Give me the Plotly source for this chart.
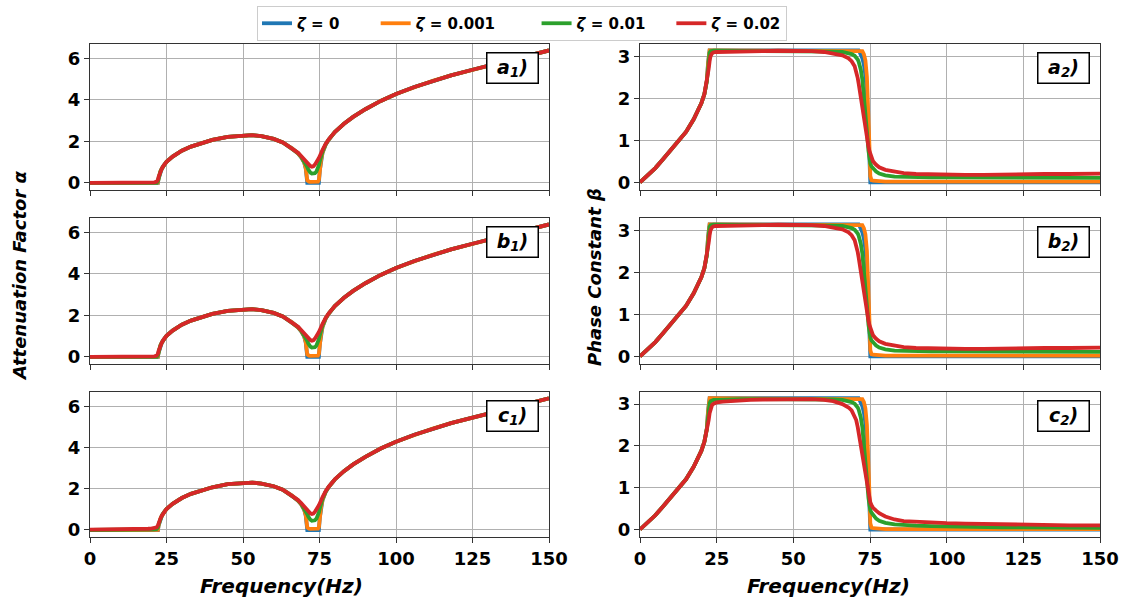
import plotly.graph_objects as go

# ---------------- data ----------------
freq = [0, 2.5, 5, 7.5, 10, 12.5, 15, 17.5, 19, 20,
        21, 21.8, 22.2, 22.4, 22.7,
        23, 23.5, 24, 25, 27, 30, 33, 36, 40, 45,
        50, 53, 56, 60, 63, 66, 68, 69, 70, 70.5,
        71, 71.3, 71.6, 72, 72.5, 73, 73.5, 74, 74.5, 74.8,
        75.1, 75.5, 76, 77, 78, 80, 83, 86, 90, 95,
        100, 106, 112, 118, 125, 132, 140, 150]

zeta_labels = ["0", "0.001", "0.01", "0.02"]
colors = ["#1f77b4", "#ff7f0e", "#2ca02c", "#d62728"]

# attenuation factor, rows a & b
alpha_ab_z0 = [0, 0, 0, 0, 0, 0, 0, 0, 0, 0,
               0, 0, 0, 0.2, 0.39,
               0.55, 0.7, 0.82, 1.02, 1.27, 1.55, 1.75, 1.9, 2.07, 2.22,
               2.29, 2.3, 2.25, 2.12, 1.95, 1.67, 1.42, 1.24, 0.98, 0.7,
               0, 0, 0, 0, 0, 0, 0, 0, 0, 0,
               0.6, 1.1, 1.45, 1.84, 2.08, 2.45, 2.85, 3.18, 3.55, 3.95,
               4.28, 4.62, 4.92, 5.18, 5.45, 5.72, 6.02, 6.38]
alpha_ab_z1 = [0, 0, 0, 0, 0, 0, 0, 0, 0, 0,
               0, 0, 0.01, 0.21, 0.4,
               0.55, 0.7, 0.82, 1.02, 1.27, 1.55, 1.75, 1.9, 2.07, 2.22,
               2.29, 2.3, 2.25, 2.12, 1.95, 1.67, 1.42, 1.25, 0.99, 0.72,
               0.12, 0.07, 0.06, 0.05, 0.05, 0.05, 0.05, 0.05, 0.06, 0.14,
               0.62, 1.1, 1.46, 1.85, 2.08, 2.45, 2.85, 3.18, 3.55, 3.95,
               4.28, 4.62, 4.92, 5.18, 5.45, 5.72, 6.02, 6.38]
alpha_ab_z2 = [0, 0, 0, 0, 0, 0, 0, 0, 0, 0,
               0, 0.01, 0.08, 0.25, 0.41,
               0.55, 0.7, 0.82, 1.02, 1.27, 1.55, 1.75, 1.9, 2.07, 2.22,
               2.29, 2.3, 2.25, 2.12, 1.95, 1.67, 1.43, 1.27, 1.05, 0.9,
               0.76, 0.66, 0.58, 0.5, 0.45, 0.44, 0.47, 0.55, 0.68, 0.85,
               1.05, 1.3, 1.52, 1.86, 2.09, 2.45, 2.85, 3.18, 3.55, 3.95,
               4.28, 4.62, 4.92, 5.18, 5.45, 5.72, 6.02, 6.38]
alpha_ab_z3 = [0, 0, 0, 0, 0, 0, 0.01, 0.01, 0.02, 0.02,
               0.03, 0.06, 0.15, 0.28, 0.42,
               0.55, 0.7, 0.82, 1.02, 1.27, 1.55, 1.75, 1.9, 2.07, 2.22,
               2.29, 2.3, 2.25, 2.12, 1.95, 1.68, 1.45, 1.3, 1.12, 1.03,
               0.95, 0.9, 0.85, 0.81, 0.78, 0.8, 0.88, 0.98, 1.1, 1.2,
               1.3, 1.45, 1.6, 1.88, 2.1, 2.45, 2.85, 3.18, 3.55, 3.95,
               4.28, 4.62, 4.92, 5.18, 5.45, 5.72, 6.02, 6.38]

# attenuation factor, row c
alpha_c_z0 = [0, 0, 0, 0, 0, 0, 0, 0, 0, 0,
              0, 0, 0, 0.2, 0.39,
              0.55, 0.7, 0.82, 1.02, 1.27, 1.55, 1.75, 1.9, 2.07, 2.22,
              2.29, 2.3, 2.25, 2.12, 1.95, 1.67, 1.42, 1.24, 0.98, 0.7,
              0, 0, 0, 0, 0, 0, 0, 0, 0, 0,
              0.6, 1.1, 1.45, 1.84, 2.08, 2.45, 2.85, 3.18, 3.55, 3.95,
              4.28, 4.62, 4.92, 5.18, 5.45, 5.72, 6.02, 6.38]
alpha_c_z1 = [0, 0, 0, 0, 0, 0, 0, 0, 0, 0,
              0, 0, 0.01, 0.21, 0.4,
              0.55, 0.7, 0.82, 1.02, 1.27, 1.55, 1.75, 1.9, 2.07, 2.22,
              2.29, 2.3, 2.25, 2.12, 1.95, 1.67, 1.42, 1.25, 0.99, 0.72,
              0.12, 0.07, 0.06, 0.05, 0.05, 0.05, 0.05, 0.05, 0.06, 0.14,
              0.62, 1.1, 1.46, 1.85, 2.08, 2.45, 2.85, 3.18, 3.55, 3.95,
              4.28, 4.62, 4.92, 5.18, 5.45, 5.72, 6.02, 6.38]
alpha_c_z2 = [0, 0, 0, 0.01, 0.01, 0.01, 0.01, 0.02, 0.02, 0.02,
              0.03, 0.05, 0.12, 0.27, 0.42,
              0.55, 0.7, 0.82, 1.02, 1.27, 1.55, 1.75, 1.9, 2.07, 2.22,
              2.29, 2.3, 2.25, 2.12, 1.95, 1.67, 1.43, 1.27, 1.05, 0.9,
              0.76, 0.66, 0.58, 0.5, 0.45, 0.44, 0.47, 0.55, 0.68, 0.85,
              1.05, 1.3, 1.52, 1.86, 2.09, 2.45, 2.85, 3.18, 3.55, 3.95,
              4.28, 4.62, 4.92, 5.18, 5.45, 5.72, 6.02, 6.38]
alpha_c_z3 = [0.02, 0.02, 0.02, 0.03, 0.03, 0.03, 0.04, 0.05, 0.06, 0.07,
              0.09, 0.13, 0.22, 0.32, 0.44,
              0.55, 0.7, 0.82, 1.02, 1.27, 1.55, 1.75, 1.9, 2.07, 2.22,
              2.29, 2.3, 2.25, 2.12, 1.95, 1.68, 1.45, 1.3, 1.12, 1.03,
              0.95, 0.9, 0.85, 0.81, 0.78, 0.8, 0.88, 0.98, 1.1, 1.2,
              1.3, 1.45, 1.6, 1.88, 2.1, 2.45, 2.85, 3.18, 3.55, 3.95,
              4.28, 4.62, 4.92, 5.18, 5.45, 5.72, 6.02, 6.38]

# phase constant, rows a & b
beta_ab_z0 = [0, 0.17, 0.34, 0.55, 0.76, 0.98, 1.2, 1.5, 1.7, 1.88,
              2.1, 2.42, 2.85, 3.14, 3.14,
              3.14, 3.14, 3.14, 3.14, 3.14, 3.14, 3.14, 3.14, 3.14, 3.14,
              3.14, 3.14, 3.14, 3.14, 3.14, 3.14, 3.14, 3.14, 3.14, 3.14,
              3.14, 3.14, 3.1, 3.05, 2.95, 2.8, 2.55, 2.1, 1.4, 0.6,
              0, 0, 0, 0, 0, 0, 0, 0, 0, 0,
              0, 0, 0, 0, 0, 0, 0, 0]
beta_ab_z1 = [0, 0.17, 0.34, 0.55, 0.76, 0.98, 1.2, 1.5, 1.7, 1.88,
              2.1, 2.42, 2.82, 3.14, 3.14,
              3.14, 3.14, 3.14, 3.14, 3.14, 3.14, 3.14, 3.14, 3.14, 3.14,
              3.14, 3.14, 3.14, 3.14, 3.14, 3.14, 3.14, 3.14, 3.14, 3.14,
              3.14, 3.14, 3.14, 3.14, 3.12, 3.05, 2.9, 2.5, 1.7, 0.9,
              0.15, 0.05, 0.04, 0.03, 0.03, 0.02, 0.02, 0.02, 0.02, 0.02,
              0.02, 0.02, 0.02, 0.02, 0.02, 0.02, 0.02, 0.02]
beta_ab_z2 = [0, 0.17, 0.34, 0.55, 0.76, 0.98, 1.2, 1.5, 1.7, 1.88,
              2.1, 2.4, 2.7, 2.9, 3.08,
              3.12, 3.13, 3.13, 3.13, 3.13, 3.13, 3.13, 3.13, 3.13, 3.13,
              3.13, 3.13, 3.13, 3.12, 3.11, 3.1, 3.07, 3.05, 3.01, 2.97,
              2.92, 2.87, 2.8, 2.68, 2.45, 2.1, 1.68, 1.2, 0.75, 0.55,
              0.45, 0.38, 0.33, 0.26, 0.21, 0.17, 0.14, 0.13, 0.12, 0.12,
              0.12, 0.12, 0.12, 0.11, 0.11, 0.11, 0.11, 0.11]
beta_ab_z3 = [0, 0.17, 0.34, 0.55, 0.76, 0.98, 1.2, 1.5, 1.7, 1.88,
              2.1, 2.38, 2.58, 2.7, 2.88,
              3.0, 3.07, 3.09, 3.1, 3.1, 3.11, 3.11, 3.12, 3.12, 3.13,
              3.13, 3.13, 3.12, 3.1, 3.07, 3.02, 2.95, 2.88, 2.76, 2.65,
              2.48, 2.35, 2.2, 1.98, 1.7, 1.45, 1.25, 1.05, 0.85, 0.75,
              0.67, 0.58, 0.5, 0.42, 0.36, 0.3, 0.25, 0.22, 0.2, 0.19,
              0.18, 0.18, 0.18, 0.19, 0.19, 0.2, 0.2, 0.21]

# phase constant, row c
beta_c_z0 = [0, 0.17, 0.34, 0.55, 0.76, 0.98, 1.2, 1.5, 1.7, 1.88,
             2.1, 2.42, 2.85, 3.14, 3.14,
             3.14, 3.14, 3.14, 3.14, 3.14, 3.14, 3.14, 3.14, 3.14, 3.14,
             3.14, 3.14, 3.14, 3.14, 3.14, 3.14, 3.14, 3.14, 3.14, 3.14,
             3.14, 3.14, 3.1, 3.05, 2.95, 2.8, 2.55, 2.1, 1.4, 0.6,
             0, 0, 0, 0, 0, 0, 0, 0, 0, 0,
             0, 0, 0, 0, 0, 0, 0, 0]
beta_c_z1 = [0, 0.17, 0.34, 0.55, 0.76, 0.98, 1.2, 1.5, 1.7, 1.88,
             2.1, 2.42, 2.82, 3.14, 3.14,
             3.14, 3.14, 3.14, 3.14, 3.14, 3.14, 3.14, 3.14, 3.14, 3.14,
             3.14, 3.14, 3.14, 3.14, 3.14, 3.14, 3.14, 3.14, 3.14, 3.14,
             3.14, 3.14, 3.14, 3.14, 3.12, 3.05, 2.9, 2.5, 1.7, 0.9,
             0.15, 0.04, 0.03, 0.02, 0.02, 0.01, 0.01, 0.01, 0.01, 0.01,
             0.01, 0.01, 0.01, 0.01, 0.01, 0.01, 0.01, 0.01]
beta_c_z2 = [0, 0.17, 0.34, 0.55, 0.76, 0.98, 1.2, 1.5, 1.7, 1.88,
             2.1, 2.4, 2.68, 2.86, 3.02,
             3.07, 3.09, 3.1, 3.1, 3.11, 3.11, 3.12, 3.12, 3.12, 3.13,
             3.13, 3.13, 3.13, 3.12, 3.11, 3.1, 3.07, 3.05, 3.01, 2.97,
             2.92, 2.87, 2.8, 2.68, 2.45, 2.1, 1.68, 1.2, 0.75, 0.55,
             0.46, 0.4, 0.34, 0.26, 0.21, 0.16, 0.12, 0.1, 0.09, 0.08,
             0.07, 0.06, 0.06, 0.05, 0.05, 0.05, 0.04, 0.04]
beta_c_z3 = [0, 0.17, 0.34, 0.55, 0.76, 0.98, 1.2, 1.5, 1.7, 1.88,
             2.1, 2.35, 2.52, 2.62, 2.78,
             2.9, 2.98, 3.01, 3.04, 3.06, 3.08, 3.09, 3.1, 3.11, 3.12,
             3.13, 3.13, 3.12, 3.1, 3.07, 3.0, 2.92, 2.85, 2.72, 2.62,
             2.45, 2.32, 2.18, 2.0, 1.72, 1.45, 1.25, 1.02, 0.82, 0.72,
             0.65, 0.58, 0.52, 0.45, 0.39, 0.31, 0.24, 0.2, 0.18, 0.16,
             0.15, 0.14, 0.13, 0.12, 0.11, 0.11, 0.1, 0.1]

x_ticks = [0, 25, 50, 75, 100, 125, 150]
alpha_ticks = [0, 2, 4, 6]
beta_ticks = [0, 1, 2, 3]
panel_tags = [["a", "a"], ["b", "b"], ["c", "c"]]

alpha_rows = [
    [alpha_ab_z0, alpha_ab_z1, alpha_ab_z2, alpha_ab_z3],
    [alpha_ab_z0, alpha_ab_z1, alpha_ab_z2, alpha_ab_z3],
    [alpha_c_z0, alpha_c_z1, alpha_c_z2, alpha_c_z3],
]
beta_rows = [
    [beta_ab_z0, beta_ab_z1, beta_ab_z2, beta_ab_z3],
    [beta_ab_z0, beta_ab_z1, beta_ab_z2, beta_ab_z3],
    [beta_c_z0, beta_c_z1, beta_c_z2, beta_c_z3],
]

# ---------------- layout geometry (pixels) ----------------
W, H = 1131, 599
col_px = [(90, 549), (640, 1100)]
row_px = [(44, 190), (218, 364), (392, 537)]
legend_pad = [6, 7, 4, 0]   # extra spacing after each legend entry

FONT = "DejaVu Sans"
NBSP = "\u00a0"
fig = go.Figure()


def xd(a, b):
    return [a / W, b / W]


def yd(top, bottom):
    return [1 - bottom / H, 1 - top / H]


axis_idx = 0
for r in range(3):
    for c in range(2):
        axis_idx += 1
        xa = "x" if axis_idx == 1 else f"x{axis_idx}"
        ya = "y" if axis_idx == 1 else f"y{axis_idx}"
        data = alpha_rows[r] if c == 0 else beta_rows[r]
        for k in range(4):
            fig.add_trace(go.Scatter(
                x=freq, y=data[k], mode="lines",
                line=dict(color=colors[k], width=3.8),
                name=f"<i>ζ</i> = {zeta_labels[k]}" + NBSP * legend_pad[k],
                legendgroup=f"z{k}",
                showlegend=(axis_idx == 1),
                xaxis=xa, yaxis=ya,
            ))
        xkey = "xaxis" if axis_idx == 1 else f"xaxis{axis_idx}"
        ykey = "yaxis" if axis_idx == 1 else f"yaxis{axis_idx}"
        fig.layout[xkey] = dict(
            domain=xd(*col_px[c]), anchor=ya, range=[0, 150], automargin=False,
            tickvals=x_ticks, showticklabels=(r == 2),
            tickfont=dict(family=FONT, size=18, color="black", weight="bold"),
            showgrid=True, gridcolor="#b0b0b0", gridwidth=1,
            showline=True, mirror=True, linecolor="#333333", linewidth=1.2,
            ticks="outside", ticklen=5, tickcolor="#333333", zeroline=False,
        )
        fig.layout[ykey] = dict(
            domain=yd(*row_px[r]), anchor=xa, automargin=False,
            range=[-0.34, 6.69] if c == 0 else [-0.18, 3.29],
            tickvals=alpha_ticks if c == 0 else beta_ticks,
            tickfont=dict(family=FONT, size=18, color="black", weight="bold"),
            showgrid=True, gridcolor="#b0b0b0", gridwidth=1,
            showline=True, mirror=True, linecolor="#333333", linewidth=1.2,
            ticks="outside", ticklen=5, tickcolor="#333333", zeroline=False,
        )
        # panel tag box
        bx = col_px[c][1] - 37
        by = row_px[r][0] + 24
        fig.add_annotation(
            x=bx / W, y=1 - by / H, xref="paper", yref="paper",
            xanchor="center", yanchor="middle",
            text=f"{panel_tags[r][c]}<sub>{c + 1}</sub>)",
            showarrow=False, width=48, height=27,
            font=dict(family=FONT, size=19, color="black", weight="bold", style="italic"),
            bgcolor="white", bordercolor="black", borderwidth=1.5, borderpad=1,
        )

# axis titles
title_font = dict(family=FONT, size=20, color="black", weight="bold", style="italic")
for tx in (281, 828):
    fig.add_annotation(x=tx / W, y=1 - 586 / H, xref="paper", yref="paper",
                       xanchor="center", yanchor="middle",
                       text="Frequency(Hz)", showarrow=False, font=title_font)
ytitle_font = dict(family=FONT, size=18, color="black", weight="bold", style="italic")
fig.add_annotation(x=20 / W, y=1 - 276 / H, xref="paper", yref="paper",
                   xanchor="center", yanchor="middle",
                   text="Attenuation Factor α", textangle=-90, showarrow=False,
                   font=ytitle_font)
fig.add_annotation(x=595 / W, y=1 - 277 / H, xref="paper", yref="paper",
                   xanchor="center", yanchor="middle",
                   text="Phase Constant β", textangle=-90, showarrow=False,
                   font=ytitle_font)

fig.update_layout(
    template="none",
    width=W, height=H,
    margin=dict(l=0, r=0, t=0, b=0, autoexpand=False),
    paper_bgcolor="white", plot_bgcolor="white",
    legend=dict(
        orientation="h", x=257 / W, xanchor="left", y=1 - 6 / H, yanchor="top",
        bordercolor="#cccccc", borderwidth=1, bgcolor="white",
        font=dict(family=FONT, size=15, color="black", weight="bold"),
        itemwidth=30, tracegroupgap=0,
    ),
)

fig.write_html("out.html")
